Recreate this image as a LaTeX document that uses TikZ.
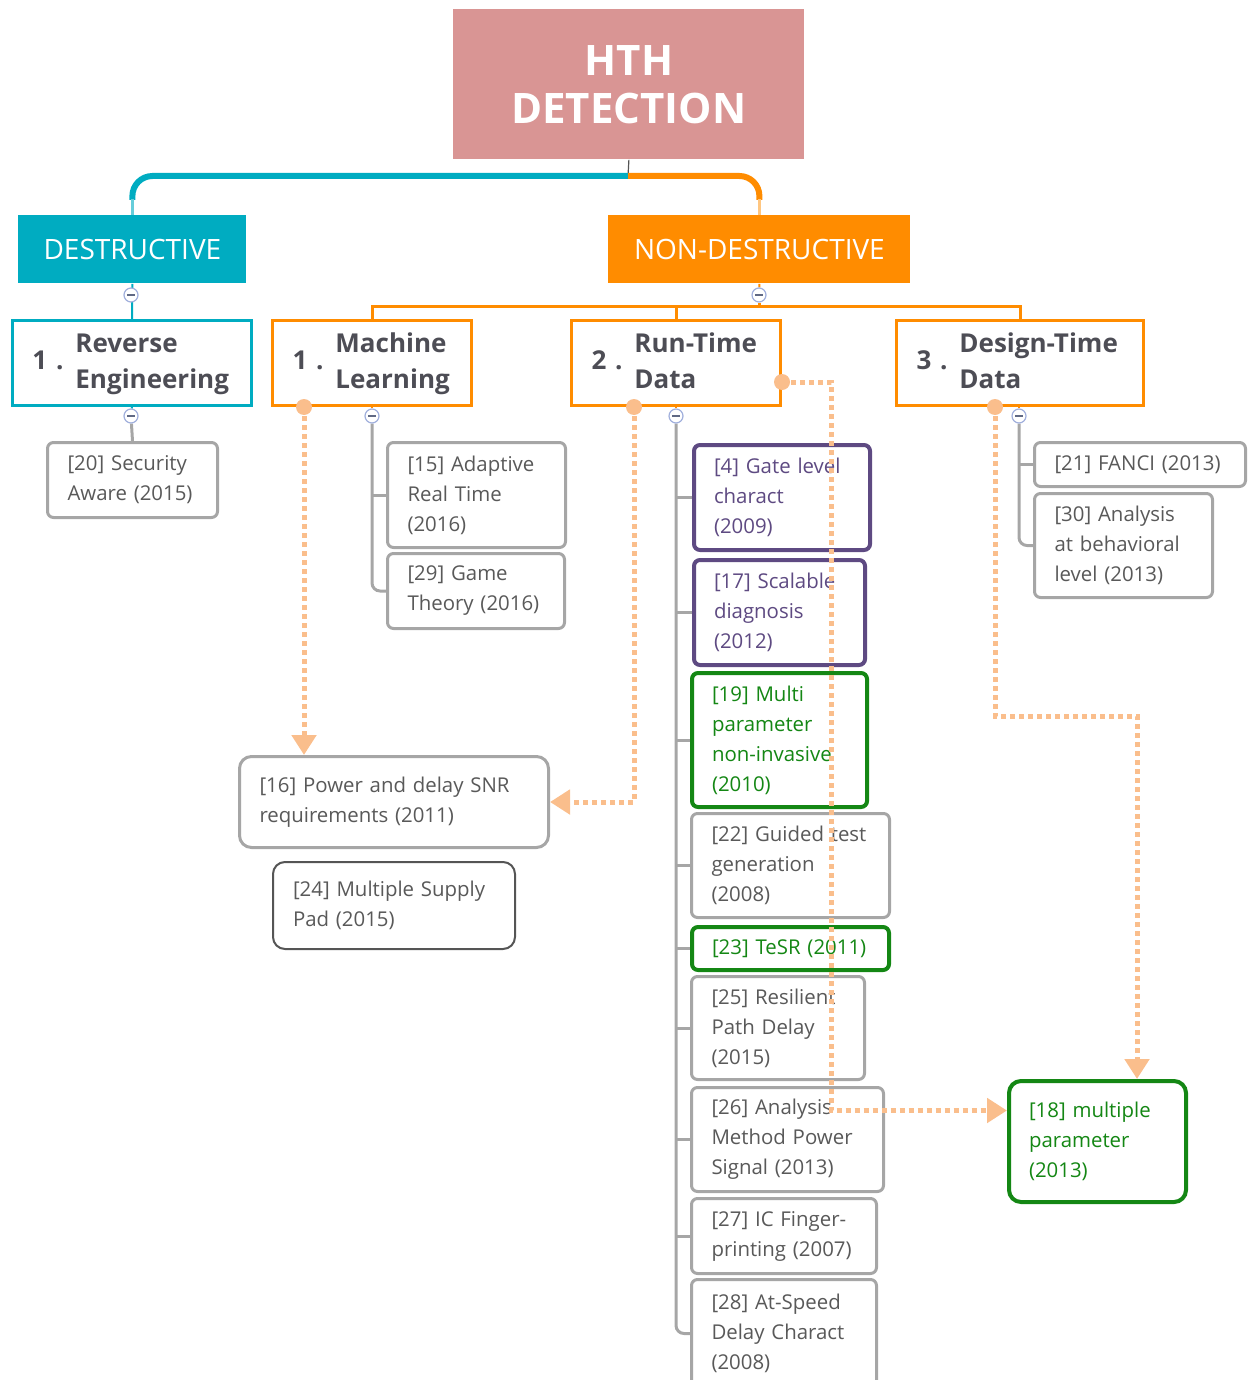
\documentclass[tikz,border=0pt]{standalone}
\usepackage{fontspec}
\setmainfont{Open Sans}
\usetikzlibrary{arrows.meta}

\pgfdeclarelayer{background}
\pgfsetlayers{background,main}

\begin{document}
\begin{tikzpicture}[x=0.5pt, y=-0.5pt,
  every node/.style={inner sep=0pt},
  headbox/.style={anchor=north west, fill=#1, text=white, align=center},
  groupbox/.style={anchor=north west, draw=#1, line width=1.5pt, fill=white, minimum height=42.5pt, inner xsep=10pt, text=titlegray, font=\fontsize{13}{18}\selectfont\bfseries, align=left},
  leaf/.style={anchor=north west, draw=leafgray, line width=1.5pt, rounded corners=3pt, fill=white, text=leaftext, font=\fontsize{10.2}{15}\selectfont, align=left, inner xsep=10pt, inner ysep=2pt, text width=#1},
  purpleleaf/.style={leaf=#1, draw=trojanpurple, text=trojanpurple, line width=2pt},
  greenleaf/.style={leaf=#1, draw=trojangreen, text=trojangreen, line width=2pt},
  fold/.style={circle, draw=foldblue, fill=white, line width=0.6pt, minimum size=7pt, path picture={\draw[foldblue!60!black, line width=0.6pt] ([xshift=-2pt]path picture bounding box.center) -- ([xshift=2pt]path picture bounding box.center);}},
  treeline/.style={leafgray, line width=1.5pt, rounded corners=4pt},
  flow/.style={peach, line width=2.5pt, dash pattern=on 2.5pt off 2pt, -{Triangle[width=12pt,length=10pt]}}
]

\definecolor{rootpink}{RGB}{217,149,148}
\definecolor{destcyan}{RGB}{0,172,193}
\definecolor{ndorange}{RGB}{255,140,0}
\definecolor{titlegray}{RGB}{77,77,85}
\definecolor{leafgray}{RGB}{166,166,166}
\definecolor{leaftext}{RGB}{89,89,89}
\definecolor{darkline}{RGB}{85,85,85}
\definecolor{trojanpurple}{RGB}{94,74,130}
\definecolor{trojangreen}{RGB}{20,135,20}
\definecolor{foldblue}{RGB}{160,175,220}
\definecolor{peach}{RGB}{250,190,140}

\useasboundingbox (0,0) rectangle (1247,1380);

% Kopf und Zweige
\node[headbox=rootpink, minimum width=175.5pt, minimum height=75pt, font=\fontsize{21}{24}\selectfont\bfseries] (root) at (453,9) {HTH\\DETECTION};
\node[headbox=destcyan, minimum width=114pt, minimum height=34pt, font=\fontsize{14}{17}\selectfont] (dest) at (18,215) {DESTRUCTIVE};
\node[headbox=ndorange, minimum width=151pt, minimum height=34pt, font=\fontsize{14}{17}\selectfont] (nondest) at (608,215) {NON-DESTRUCTIVE};

% Gruppen
\node[groupbox=destcyan, text width=99.5pt] (reverse) at (11,319) {1 .\hspace{6pt}\begin{tabular}[c]{@{}l@{}}Reverse\\Engineering\end{tabular}};
\node[groupbox=ndorange, text width=79.5pt] (ml) at (271,319) {1 .\hspace{6pt}\begin{tabular}[c]{@{}l@{}}Machine\\Learning\end{tabular}};
\node[groupbox=ndorange, text width=84.5pt] (rt) at (570,319) {2 .\hspace{6pt}\begin{tabular}[c]{@{}l@{}}Run-Time\\Data\end{tabular}};
\node[groupbox=ndorange, text width=103.5pt] (dt) at (895,319) {3 .\hspace{6pt}\begin{tabular}[c]{@{}l@{}}Design-Time\\Data\end{tabular}};

% Einklapp-Knoepfe
\node[fold] (destfold) at (131,295) {};
\node[fold] (ndfold) at (759,295) {};
\node[fold] (revfold) at (131,416) {};
\node[fold] (mlfold) at (372,416) {};
\node[fold] (rtfold) at (676,416) {};
\node[fold] (dtfold) at (1019,416) {};

% Arbeiten
\node[leaf=65pt, minimum height=37.5pt] (sec20) at (46,441) {[20] Security\\Aware (2015)};
\node[leaf=69pt, minimum height=52.5pt] (ml15) at (386,441) {[15] Adaptive\\Real Time\\(2016)};
\node[leaf=68.5pt, minimum height=37.5pt] (ml29) at (386,552) {[29] Game\\Theory (2016)};
\node[purpleleaf=68pt, minimum height=52.5pt] (rt4) at (692,443) {[4] Gate level\\charact\\(2009)};
\node[purpleleaf=65.5pt, minimum height=52.5pt] (rt17) at (692,558) {[17] Scalable\\diagnosis\\(2012)};
\node[greenleaf=67.5pt, minimum height=67pt] (rt19) at (690,671) {[19] Multi\\parameter\\non-invasive\\(2010)};
\node[leaf=79pt, minimum height=52pt] (rt22) at (690,812) {[22]~Guided~test\\generation\\(2008)};
\node[greenleaf=78.5pt, minimum height=21.5pt] (rt23) at (690,925) {[23]~TeSR~(2011)};
\node[leaf=66.5pt, minimum height=51.5pt] (rt25) at (690,975) {[25] Resilient\\Path Delay\\(2015)};
\node[leaf=76pt, minimum height=52pt] (rt26) at (690,1086) {[26] Analysis\\Method Power\\Signal (2013)};
\node[leaf=72.5pt, minimum height=37.5pt] (rt27) at (690,1197) {[27] IC Finger-\\printing (2007)};
\node[leaf=72.5pt, minimum height=54pt] (rt28) at (690,1278) {[28] At-Speed\\Delay Charact\\(2008)};
\node[leaf=85.5pt, minimum height=22pt] (dt21) at (1033,441) {[21]~FANCI~(2013)};
\node[leaf=69pt, minimum height=52pt] (dt30) at (1033,492) {[30] Analysis\\at behavioral\\level (2013)};
\node[leaf=134.5pt, minimum height=45.5pt, rounded corners=6pt] (p16) at (238,755) {[16] Power and delay SNR\\requirements (2011)};
\node[leaf=101pt, minimum height=43.5pt, rounded corners=6pt, draw=darkline, line width=1pt] (p24) at (272,861) {[24] Multiple Supply\\Pad (2015)};
\node[greenleaf=68.5pt, minimum height=60.5pt, rounded corners=6pt] (p18) at (1007,1079) {[18] multiple\\parameter\\(2013)};

\begin{pgfonlayer}{background}
% Baumlinien
\coordinate (split) at (628,176);
\draw[darkline, line width=0.6pt] (root.south) -- (split);
\draw[destcyan, line width=3pt, rounded corners=10pt] (split) -| ([yshift=7.5pt]dest.north);
\draw[destcyan!60, line width=1.5pt] ([yshift=8pt]dest.north) -- (dest.north);
\draw[ndorange, line width=3pt, rounded corners=10pt] (split) -| ([yshift=7.5pt]nondest.north);
\draw[ndorange!50, line width=1.5pt] ([yshift=8pt]nondest.north) -- (nondest.north);

\draw[destcyan, line width=1pt] (dest.south) -- (reverse.north);
\draw[destcyan, line width=1pt] (reverse.south) -- (revfold);
\draw[treeline] (revfold) -- (sec20.north);

\coordinate (ndbar) at (759,306);
\draw[ndorange, line width=1pt] (nondest.south) -- (ndfold);
\draw[ndorange, line width=1.5pt] (ndfold) -- (ndbar);
\draw[ndorange, line width=1.5pt] (ml.north) |- (ndbar) -| (dt.north);
\draw[ndorange, line width=1.5pt] (rt.north) -- (rt.north |- ndbar);

\draw[ndorange, line width=1pt] (mlfold) -- (mlfold |- ml.south);
\draw[ndorange, line width=1pt] (rtfold) -- (rtfold |- rt.south);
\draw[ndorange, line width=1pt] (dtfold) -- (dtfold |- dt.south);

\draw[treeline] (mlfold) |- (ml29.west);
\draw[treeline] (mlfold |- ml15.west) -- (ml15.west);
\draw[treeline] (rtfold) |- (rt28.west);
\foreach \n in {rt4,rt17,rt19,rt22,rt23,rt25,rt26,rt27}
  \draw[treeline] (rtfold |- \n.west) -- (\n.west);
\draw[treeline] (dtfold) |- (dt30.west);
\draw[treeline] (dtfold |- dt21.west) -- (dt21.west);
\end{pgfonlayer}

% Querverweise
\coordinate (mlout) at ([xshift=16.5pt]ml.south west);
\coordinate (rtout) at ([xshift=32pt]rt.south west);
\coordinate (rtside) at ([yshift=-9.5pt]rt.east);
\coordinate (dtout) at ([xshift=50pt]dt.south west);
\coordinate (dtbend) at (1137,716);

\draw[flow] (mlout) -- (mlout |- p16.north);
\draw[flow] (rtout) |- (p16.east);
\draw[flow] (rtside) -- ([xshift=24.5pt]rtside) |- ([yshift=15.5pt]p18.west);
\draw[flow] (dtout) |- (dtbend) -- (dtbend |- p18.north);

\foreach \c in {mlout,rtout,rtside,dtout}
  \fill[peach] (\c) circle (4pt);

\end{tikzpicture}
\end{document}
